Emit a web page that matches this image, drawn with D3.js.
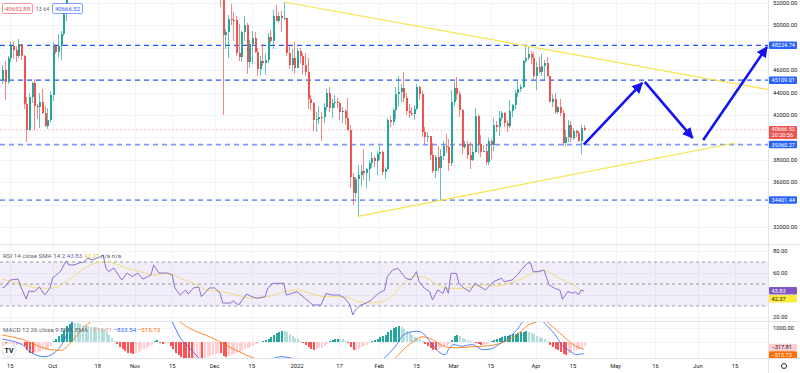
<!DOCTYPE html>
<html>
<meta charset="utf-8">
<style>
  body { margin: 0; background: #fff; }
  svg { display: block; font-family: Roboto, "Liberation Sans", sans-serif; }
  .tick { font-size: 5.8px; fill: #131722; }
  .leg { font-size: 6.2px; fill: #5d606b; }
</style>
<head>
<script src="https://d3js.org/d3.v7.min.js"></script>
</head>
<body>
<script>
// daily candles [day, open, high, low, close]; Oct 7 - Dec 2 sit above the visible range
var sep21 = [[12,45160,46440,44750,46060],[13,46060,46780,43370,44960],[14,44960,47250,44750,47130],[15,47130,48480,46700,48150],[16,48150,48500,47040,47760],[17,47760,48160,46750,47300],[18,47300,48820,47050,48310],[19,48310,48370,46880,47260],[20,47260,47330,42500,43010],[21,43010,43640,39600,40700],[22,40700,44000,40570,43580],[23,43580,44980,43100,44900],[24,44900,45200,40680,42840],[25,42840,42970,41650,42720],[26,42720,43920,40800,43200],[27,43200,44350,42100,42170],[28,42170,42790,40900,41030],[29,41030,42600,40750,41520],[30,41520,44130,41400,43800]];
var oct21 = [[1,43800,48500,43290,48140],[2,48140,48360,47440,47630],[3,47630,49230,47120,48200],[4,48200,49500,46900,49220],[5,49220,51890,49050,51490],[6,51490,55750,50380,55340]];
var dec21 = [[3,56500,57600,51680,53600],[4,53600,53860,42000,49150],[5,49150,49700,47850,49400],[6,49400,50900,47100,50580],[7,50580,51950,50050,50480],[8,50480,51200,48600,50470],[9,50470,50800,47300,47540],[10,47540,50100,46850,47140],[11,47140,49480,46750,49390],[12,49390,50800,48650,50050],[13,50050,50200,45670,46700],[14,46700,48700,46200,48340],[15,48340,49500,46550,48860],[16,48860,49450,47500,47630],[17,47630,48000,45500,46130],[18,46130,47300,45500,46830],[19,46830,48300,46400,46680],[20,46680,47530,45560,46900],[21,46900,49330,46630,48940],[22,48940,49570,48420,48630],[23,48630,51380,47900,50820],[24,50820,51810,50400,50430],[25,50430,51170,50200,50800],[26,50800,51280,49440,50700],[27,50700,52090,50450,50700],[28,50700,50700,47300,47540],[29,47540,48140,46100,46460],[30,46460,47900,45900,47120],[31,47120,48550,45680,46200]];
var jan22 = [[1,46200,47950,46200,47730],[2,47730,47990,46650,47300],[3,47300,47570,45700,46450],[4,46450,47500,45500,45830],[5,45830,47070,42500,43430],[6,43430,43800,42430,43080],[7,43080,43150,40610,41550],[8,41550,42300,40500,41680],[9,41680,42790,41200,41860],[10,41860,42250,39650,41830],[11,41830,43100,41270,42740],[12,42740,44350,42450,43920],[13,43920,44460,42300,42590],[14,42590,43450,41700,43100],[15,43100,43800,42600,43180],[16,43180,43480,42590,43110],[17,43110,43200,41550,42250],[18,42250,42690,41250,42380],[19,42380,42580,41140,41690],[20,41690,43500,40550,40700],[21,40700,41100,35440,36450],[22,36450,36850,34000,35070],[23,35070,36500,34600,36280],[24,36280,37550,32950,36680],[25,36680,37550,35700,36960],[26,36960,38920,36200,36820],[27,36820,37230,35500,37190],[28,37190,38000,36150,37730],[29,37730,38720,37300,38170],[30,38170,38370,37350,37920],[31,37920,38750,36650,38480]];
var feb22 = [[1,38480,39270,38000,38740],[2,38740,38850,36600,36950],[3,36950,37390,36250,37150],[4,37150,41770,37050,41570],[5,41570,41940,40950,41390],[6,41390,42650,41150,42410],[7,42410,44500,41650,43840],[8,43840,45490,42670,44040],[9,44040,44800,43120,44370],[10,44370,45820,43200,43510],[11,43510,43920,42000,42400],[12,42400,43000,41740,42200],[13,42200,42740,41870,42050],[14,42050,42880,41570,42530],[15,42530,44750,42430,44540],[16,44540,44580,43310,43870],[17,43870,44160,40070,40510],[18,40510,40950,39450,40000],[19,40000,40450,39630,40100],[20,40100,40150,38000,38390],[21,38390,39500,36800,37000],[22,37000,38430,36350,38250],[23,38250,39250,37040,37250],[24,37250,38970,34320,38330],[25,38330,39700,38020,39210],[26,39210,40300,38580,39100],[27,39100,39850,37000,37700],[28,37700,44220,37450,43160]];
var mar22 = [[1,43160,44950,42800,44420],[2,44420,45400,43330,43890],[3,43890,44100,41830,42450],[4,42450,42500,38550,39150],[5,39150,39700,38950,39400],[6,39400,39650,38080,38420],[7,38420,39550,37160,37990],[8,37990,39360,37860,38730],[9,38730,42600,38650,41940],[10,41940,42050,38540,39420],[11,39420,40240,38220,38730],[12,38730,39360,38660,38810],[13,38810,39300,37580,37780],[14,37780,39950,37560,39670],[15,39670,39870,38100,39280],[16,39280,41720,38810,41110],[17,41110,41480,40500,40920],[18,40920,42330,40130,41760],[19,41760,42400,41500,42200],[20,42200,42300,40900,41260],[21,41260,41550,40480,41000],[22,41000,43360,40880,42360],[23,42360,43000,41800,42880],[24,42880,44220,42560,43960],[25,43960,45100,43580,44340],[26,44340,44800,44070,44500],[27,44500,46950,44420,46820],[28,46820,48190,46650,47120],[29,47120,48100,46950,47430],[30,47430,47700,46540,47070],[31,47070,47600,45200,45510]];
var apr22 = [[1,45510,46720,44200,46280],[2,46280,47210,45620,45810],[3,45810,47440,45520,46400],[4,46400,46880,45120,46620],[5,46620,47200,45350,45500],[6,45500,45500,43120,43170],[7,43170,43900,42730,43440],[8,43440,43970,42110,42250],[9,42250,42800,42130,42750],[10,42750,43420,41870,42160],[11,42160,42420,39200,39530],[12,39530,40700,39250,40070],[13,40070,41560,39590,41150],[14,41150,41500,39550,39940],[15,39940,40850,39770,40550],[16,40550,40700,40000,40380],[17,40380,40600,39560,39680],[18,39680,41150,38540,40800],[19,40800,41100,40550,40666.52]];

// horizontal levels, trend lines and projection arrows
var levels = [48224.74, 45109.01, 39360.27, 34401.44];
var upperTrend = [["2021-12-27", 52090], ["2022-03-28", 48190]];
var lowerTrend = [["2022-01-24", 32950], ["2022-06-15", 39500]];
var arrows = [
  [["2022-04-19", 39360], ["2022-05-11", 44860]],
  [["2022-05-12", 44950], ["2022-05-30", 39950]],
  [["2022-06-03", 39770], ["2022-06-27", 48070]]
];

// RSI 14 and its SMA 14
var rsiPts = [["2021-09-12",46.4],["2021-09-13",47.5],["2021-09-15",53.6],["2021-09-18",54.5],["2021-09-19",47.3],["2021-09-21",36.4],["2021-09-22",43.6],["2021-09-24",43],["2021-09-26",47.3],["2021-09-28",40],["2021-09-30",46.4],["2021-10-01",55.7],["2021-10-02",57.5],["2021-10-04",61.8],["2021-10-06",70.9],["2021-10-07",67.3],["2021-10-09",67.3],["2021-10-11",69.1],["2021-10-13",70.3],["2021-10-14",73.6],["2021-10-16",71.8],["2021-10-19",74.8],["2021-10-20",76.4],["2021-10-21",64.5],["2021-10-22",61.2],["2021-10-24",64.5],["2021-10-27",53.6],["2021-10-29",60],["2021-10-31",56.6],["2021-11-02",60],["2021-11-04",54.5],["2021-11-07",58.2],["2021-11-08",67.3],["2021-11-10",60],["2021-11-13",60],["2021-11-15",58.2],["2021-11-16",46.4],["2021-11-18",40],["2021-11-20",44.5],["2021-11-21",40.9],["2021-11-23",46.4],["2021-11-25",47.3],["2021-11-26",38.5],["2021-11-29",46.4],["2021-12-01",46.4],["2021-12-03",41.8],["2021-12-04",32.7],["2021-12-07",32.7],["2021-12-08",34.5],["2021-12-10",30.9],["2021-12-12",37.3],["2021-12-13",40.9],["2021-12-15",38.5],["2021-12-17",37],["2021-12-20",38.5],["2021-12-21",46.4],["2021-12-23",50.6],["2021-12-27",50.6],["2021-12-28",40],["2021-12-30",41.5],["2022-01-01",43],["2022-01-04",37],["2022-01-07",30.9],["2022-01-10",30.9],["2022-01-12",41.5],["2022-01-14",40],["2022-01-17",40],["2022-01-19",37],["2022-01-21",30.9],["2022-01-22",21.8],["2022-01-23",26.4],["2022-01-25",30.9],["2022-01-27",32.5],["2022-01-29",35.5],["2022-01-31",40],["2022-02-01",42.1],["2022-02-03",44.5],["2022-02-04",56.6],["2022-02-06",62.7],["2022-02-08",64.3],["2022-02-11",55.2],["2022-02-13",53.6],["2022-02-15",61.2],["2022-02-16",52.1],["2022-02-18",46.1],["2022-02-20",43],["2022-02-21",35.5],["2022-02-23",44.5],["2022-02-25",41.5],["2022-02-26",47.5],["2022-02-27",41.5],["2022-02-28",59.7],["2022-03-02",59.7],["2022-03-03",50.6],["2022-03-05",46.1],["2022-03-07",43],["2022-03-09",50.6],["2022-03-10",49.1],["2022-03-12",46.1],["2022-03-13",44.5],["2022-03-16",52.1],["2022-03-19",55.2],["2022-03-20",52.1],["2022-03-23",53.6],["2022-03-25",58.2],["2022-03-27",64.3],["2022-03-29",69.4],["2022-03-30",68.8],["2022-03-31",61.2],["2022-04-02",61.2],["2022-04-04",62.7],["2022-04-06",49.1],["2022-04-08",46.1],["2022-04-10",44.5],["2022-04-11",36.1],["2022-04-13",43],["2022-04-15",41.5],["2022-04-16",43],["2022-04-17",40],["2022-04-18",44.5],["2022-04-19",43.83]];
var rsiSmaPts = [["2021-09-12",54.5],["2021-09-18",50.6],["2021-09-25",46.6],["2021-09-29",46.1],["2021-10-03",47.5],["2021-10-07",53.6],["2021-10-12",62.7],["2021-10-17",68.8],["2021-10-21",70.3],["2021-10-24",68.8],["2021-10-29",64.3],["2021-11-03",61.2],["2021-11-08",58.2],["2021-11-14",59.7],["2021-11-18",55.2],["2021-11-23",50.6],["2021-11-28",44.5],["2021-12-04",43],["2021-12-08",40.6],["2021-12-15",37.2],["2021-12-21",38.5],["2021-12-27",43],["2022-01-01",44.5],["2022-01-06",41.5],["2022-01-11",38.5],["2022-01-19",38.5],["2022-01-24",33.9],["2022-01-29",33],["2022-02-03",34.5],["2022-02-06",40],["2022-02-10",50.6],["2022-02-15",57.3],["2022-02-19",55.2],["2022-02-23",49.1],["2022-02-26",46.1],["2022-03-05",46.1],["2022-03-12",49.1],["2022-03-17",48.2],["2022-03-22",50.6],["2022-03-27",55.2],["2022-04-01",61.2],["2022-04-04",62.7],["2022-04-06",60.3],["2022-04-11",53.6],["2022-04-16",47.5],["2022-04-19",42.37]];

// MACD 12 26 9: daily histogram by month, MACD line and signal line
var histSep = [-250,-350,-300,-250,-200,-180,-150,-150,-300,-550,-750,-800,-720,-680,-640,-580,-540,-500,-300];
var histOct = [100,250,420,600,850,1150,1300,1400,1380,1350,1300,1250,1200,1150,1100,1080,1050,1000,950,900,700,500,300,100,-150,-350,-500,-650,-750,-800,-850];
var histNov = [-820,-700,-600,-500,-400,-300,-180,60,150,-50,-120,-100,-80,-300,-500,-750,-950,-1100,-1200,-1250,-1300,-1350,-1300,-1250,-1200,-1250,-1200,-1100,-1000,-900];
var histDec = [-850,-800,-820,-1000,-1050,-1000,-920,-850,-800,-720,-620,-520,-450,-350,-250,-150,-60,20,60,120,200,350,500,650,750,800,800,700,550,400,280];
var histJan = [180,80,-80,-200,-380,-500,-550,-520,-450,-400,-300,-150,50,120,180,230,220,180,100,-100,-350,-550,-550,-480,-380,-300,-200,-80,60,150,250];
var histFeb = [350,420,500,700,850,1000,1100,1130,1100,950,800,650,500,380,300,200,80,-150,-300,-450,-580,-600,-520,-450,-350,-250,-150,150];
var histMar = [450,530,450,300,200,120,60,20,-80,-150,-200,-180,-150,-50,50,150,230,300,380,420,450,500,550,600,650,700,750,770,720,650,550];
var histApr = [450,380,300,220,100,-200,-350,-500,-600,-700,-880,-900,-800,-750,-650,-550,-480,-400,-317.81];
var histMonths = [["2021-09-12",histSep],["2021-10-01",histOct],["2021-11-01",histNov],["2021-12-01",histDec],["2022-01-01",histJan],["2022-02-01",histFeb],["2022-03-01",histMar],["2022-04-01",histApr]];
var macdPts = [["2021-09-12",200],["2021-09-20",-250],["2021-09-22",-650],["2021-09-28",-1050],["2021-10-01",-850],["2021-10-04",-300],["2021-10-06",400],["2021-10-08",1300],["2021-10-12",2200],["2021-10-20",3000],["2021-11-01",2600],["2021-11-10",2400],["2021-11-15",1430],["2021-11-18",300],["2021-11-21",-300],["2021-11-25",-1150],["2021-12-05",-2500],["2021-12-15",-1800],["2021-12-22",-1250],["2021-12-26",-1050],["2021-12-30",-1150],["2022-01-02",-1300],["2022-01-10",-2000],["2022-01-24",-2300],["2022-02-02",-1300],["2022-02-08",-70],["2022-02-10",500],["2022-02-15",770],["2022-02-17",680],["2022-02-20",60],["2022-02-23",-650],["2022-02-26",-900],["2022-02-27",-550],["2022-03-01",-180],["2022-03-04",-300],["2022-03-08",-180],["2022-03-12",-550],["2022-03-15",-500],["2022-03-18",-180],["2022-03-22",370],["2022-03-25",900],["2022-03-27",1430],["2022-04-01",1800],["2022-04-05",1200],["2022-04-09",300],["2022-04-11",-300],["2022-04-14",-650],["2022-04-16",-900],["2022-04-19",-833.54]];
var signalPts = [["2021-09-12",500],["2021-09-20",150],["2021-09-28",-450],["2021-10-04",-600],["2021-10-08",0],["2021-10-12",900],["2021-10-20",2000],["2021-11-01",2700],["2021-11-12",2500],["2021-11-18",1430],["2021-12-01",200],["2021-12-15",-1100],["2021-12-18",-1300],["2021-12-25",-1500],["2022-01-05",-1600],["2022-01-20",-1700],["2022-02-01",-1500],["2022-02-06",-1290],["2022-02-10",-550],["2022-02-14",60],["2022-02-17",370],["2022-02-21",180],["2022-02-24",-180],["2022-02-26",-350],["2022-03-02",-420],["2022-03-07",-350],["2022-03-12",-300],["2022-03-17",-180],["2022-03-22",180],["2022-03-26",700],["2022-03-29",1200],["2022-04-01",1430],["2022-04-03",1600],["2022-04-05",1450],["2022-04-08",980],["2022-04-12",300],["2022-04-16",-300],["2022-04-19",-515.73]];

// axes
var priceTicks = d3.range(32000, 52001, 2000);
var rsiTicks = [20, 40, 60, 80];
var macdTicks = [0, 1000];
var timeTicks = ["2021-09-15","2021-10-01","2021-10-18","2021-11-01","2021-11-15","2021-12-01","2021-12-15","2022-01-01","2022-01-17","2022-02-01","2022-02-15","2022-03-01","2022-03-15","2022-04-01","2022-04-15","2022-05-01","2022-05-16","2022-06-01","2022-06-15"];
var timeLabels = ["15","Oct","18","Nov","15","Dec","15","2022","17","Feb","15","Mar","15","Apr","15","May","16","Jun","15"];

var width = 800, height = 373, plotR = 768;
var mainTop = 0, mainBot = 244, rsiTop = 244, rsiBot = 321, macdTop = 321, macdBot = 358;
var parse = d3.utcParse("%Y-%m-%d");

var x = d3.scaleUtc()
    .domain([parse("2022-01-01"), parse("2022-06-01")])
    .range([297, 297 + 151 * 2.655]);
var y = d3.scaleLinear().domain([32000, 52000]).range([227, 3]);
var yr = d3.scaleLinear().domain([30, 70]).range([306, 262]);
var ym = d3.scaleLinear().domain([0, 1000]).range([342, 328]);

var candles = [[2021,8,sep21],[2021,9,oct21],[2021,11,dec21],[2022,0,jan22],[2022,1,feb22],[2022,2,mar22],[2022,3,apr22]]
  .flatMap(function(m) {
    return m[2].map(function(r) {
      return {t: new Date(Date.UTC(m[0], m[1], r[0])), o: r[1], h: r[2], l: r[3], c: r[4]};
    });
  });

var hist = histMonths.flatMap(function(m) {
  var start = parse(m[0]);
  return m[1].map(function(v, i) { return {t: d3.utcDay.offset(start, i), v: v}; });
});
hist.forEach(function(d, i) {
  var prev = i > 0 ? hist[i - 1].v : d.v;
  if (d.v >= 0) d.col = d.v > prev ? "#26a69a" : "#b2dfdb";
  else d.col = d.v < prev ? "#ff5252" : "#ffcdd2";
});

var svg = d3.select("body").append("svg")
    .attr("width", width)
    .attr("height", height);

var defs = svg.append("defs");
[["clipMain", mainTop, mainBot], ["clipRsi", rsiTop, rsiBot], ["clipMacd", macdTop, macdBot]].forEach(function(c) {
  defs.append("clipPath").attr("id", c[0])
    .append("rect").attr("x", 0).attr("y", c[1]).attr("width", plotR).attr("height", c[2] - c[1]);
});
defs.append("marker").attr("id", "head")
    .attr("viewBox", "0 0 10 10").attr("refX", 9).attr("refY", 5)
    .attr("markerUnits", "userSpaceOnUse").attr("markerWidth", 11).attr("markerHeight", 11)
    .attr("orient", "auto")
  .append("path").attr("d", "M0,0L10,5L0,10z").attr("fill", "#1212f5");

// grid
var grid = svg.append("g").attr("stroke", "#f0f3fa").attr("stroke-width", 1).attr("shape-rendering", "crispEdges");
timeTicks.forEach(function(t) {
  var xx = Math.round(x(parse(t))) + 0.5;
  grid.append("line").attr("x1", xx).attr("x2", xx).attr("y1", 0).attr("y2", macdBot);
});
priceTicks.forEach(function(p) {
  grid.append("line").attr("x1", 0).attr("x2", plotR).attr("y1", Math.round(y(p)) + 0.5).attr("y2", Math.round(y(p)) + 0.5);
});
rsiTicks.forEach(function(v) {
  grid.append("line").attr("x1", 0).attr("x2", plotR).attr("y1", Math.round(yr(v)) + 0.5).attr("y2", Math.round(yr(v)) + 0.5);
});
macdTicks.forEach(function(v) {
  grid.append("line").attr("x1", 0).attr("x2", plotR).attr("y1", Math.round(ym(v)) + 0.5).attr("y2", Math.round(ym(v)) + 0.5);
});

// ---- main pane
var main = svg.append("g").attr("clip-path", "url(#clipMain)");

main.append("line")
    .attr("x1", 0).attr("x2", plotR)
    .attr("y1", y(40666.52)).attr("y2", y(40666.52))
    .attr("stroke", "#ef5350").attr("stroke-opacity", 0.35).attr("stroke-dasharray", "2,2");

main.selectAll(".lvl").data(levels).enter().append("line")
    .attr("x1", 0).attr("x2", plotR)
    .attr("y1", function(d) { return y(d); }).attr("y2", function(d) { return y(d); })
    .attr("stroke", function(d, i) { return i < 2 ? "#2451ff" : "#7e98ff"; })
    .attr("stroke-width", function(d, i) { return i < 2 ? 1.3 : 1.8; })
    .attr("stroke-dasharray", "5,4");

var cg = main.append("g").attr("shape-rendering", "crispEdges");
cg.selectAll(".wick").data(candles).enter().append("line")
    .attr("x1", function(d) { return Math.round(x(d.t)) + 0.5; })
    .attr("x2", function(d) { return Math.round(x(d.t)) + 0.5; })
    .attr("y1", function(d) { return y(d.h); })
    .attr("y2", function(d) { return y(d.l); })
    .attr("stroke", function(d) { return d.c >= d.o ? "#26a69a" : "#ef5350"; })
    .attr("stroke-opacity", 0.7);
cg.selectAll(".body").data(candles).enter().append("rect")
    .attr("x", function(d) { return Math.round(x(d.t)) - 0.5; })
    .attr("width", 2)
    .attr("y", function(d) { return y(Math.max(d.o, d.c)); })
    .attr("height", function(d) { return Math.max(1, Math.abs(y(d.o) - y(d.c))); })
    .attr("fill", function(d) { return d.c >= d.o ? "#26a69a" : "#ef5350"; });

function trendPoint(p) { return [x(parse(p[0])), y(p[1])]; }
var u0 = trendPoint(upperTrend[0]), u1 = trendPoint(upperTrend[1]);
var uSlope = (u1[1] - u0[1]) / (u1[0] - u0[0]);
main.append("line")
    .attr("x1", u0[0]).attr("y1", u0[1])
    .attr("x2", plotR).attr("y2", u0[1] + uSlope * (plotR - u0[0]))
    .attr("stroke", "#f7e34a").attr("stroke-width", 1.2);
var l0 = trendPoint(lowerTrend[0]), l1 = trendPoint(lowerTrend[1]);
main.append("line")
    .attr("x1", l0[0]).attr("y1", l0[1]).attr("x2", l1[0]).attr("y2", l1[1])
    .attr("stroke", "#f7e34a").attr("stroke-width", 1.2);

arrows.forEach(function(a) {
  var p0 = trendPoint(a[0]), p1 = trendPoint(a[1]);
  main.append("line")
      .attr("x1", p0[0]).attr("y1", p0[1]).attr("x2", p1[0]).attr("y2", p1[1])
      .attr("stroke", "#1212f5").attr("stroke-width", 2.6)
      .attr("marker-end", "url(#head)");
});

// buy / sell boxes
var bs = svg.append("g").attr("font-size", "6px");
bs.append("rect").attr("x", 2.5).attr("y", 3.5).attr("width", 30).attr("height", 10).attr("rx", 1.5)
    .attr("fill", "#fff").attr("stroke", "#ef5350").attr("stroke-opacity", 0.6);
bs.append("text").attr("x", 17.5).attr("y", 10.7).attr("text-anchor", "middle").attr("fill", "#ef5350").text("40652.88");
bs.append("text").attr("x", 42.5).attr("y", 10.7).attr("text-anchor", "middle").attr("fill", "#5d606b").attr("font-size", "5.3px").text("13.64");
bs.append("rect").attr("x", 52.5).attr("y", 3.5).attr("width", 30).attr("height", 10).attr("rx", 1.5)
    .attr("fill", "#fff").attr("stroke", "#2962ff").attr("stroke-opacity", 0.6);
bs.append("text").attr("x", 67.5).attr("y", 10.7).attr("text-anchor", "middle").attr("fill", "#2962ff").text("40666.52");

// ---- RSI pane
var rsiG = svg.append("g").attr("clip-path", "url(#clipRsi)");
rsiG.append("rect").attr("x", 0).attr("width", plotR).attr("y", yr(70)).attr("height", yr(30) - yr(70))
    .attr("fill", "#7e57c2").attr("fill-opacity", 0.1);
[70, 50, 30].forEach(function(v) {
  rsiG.append("line").attr("x1", 0).attr("x2", plotR).attr("y1", yr(v)).attr("y2", yr(v))
      .attr("stroke", "#9598a1").attr("stroke-dasharray", "3,3");
});
var rsiLine = d3.line().x(function(d) { return x(parse(d[0])); }).y(function(d) { return yr(d[1]); });
rsiG.append("path").attr("d", rsiLine.curve(d3.curveMonotoneX)(rsiSmaPts))
    .attr("fill", "none").attr("stroke", "#f5dc7a").attr("stroke-width", 1);
rsiG.append("path").attr("d", rsiLine.curve(d3.curveLinear)(rsiPts))
    .attr("fill", "none").attr("stroke", "#8c6fd1").attr("stroke-width", 1);

var legR = svg.append("text").attr("class", "leg").attr("x", 3).attr("y", 258);
legR.append("tspan").text("RSI 14 close SMA 14 2 ");
legR.append("tspan").attr("fill", "#7e57c2").text(" 43.83 ");
legR.append("tspan").attr("fill", "#e8c33c").text(" 42.37 ");
legR.append("tspan").text(" n/a n/a");

// ---- MACD pane
var macdG = svg.append("g").attr("clip-path", "url(#clipMacd)");
macdG.append("g").attr("shape-rendering", "crispEdges")
  .selectAll("rect").data(hist).enter().append("rect")
    .attr("x", function(d) { return Math.round(x(d.t)) - 0.5; })
    .attr("width", 2)
    .attr("y", function(d) { return Math.min(ym(0), ym(d.v)); })
    .attr("height", function(d) { return Math.abs(ym(d.v) - ym(0)); })
    .attr("fill", function(d) { return d.col; });
var macdLine = d3.line().x(function(d) { return x(parse(d[0])); }).y(function(d) { return ym(d[1]); }).curve(d3.curveMonotoneX);
macdG.append("path").attr("d", macdLine(macdPts)).attr("fill", "none").attr("stroke", "#2962ff").attr("stroke-opacity", 0.8).attr("stroke-width", 1);
macdG.append("path").attr("d", macdLine(signalPts)).attr("fill", "none").attr("stroke", "#ff6d00").attr("stroke-opacity", 0.8).attr("stroke-width", 1);

var legM = svg.append("text").attr("class", "leg").attr("x", 3).attr("y", 332);
legM.append("tspan").text("MACD 12 26 close 9 EMA EMA ");
legM.append("tspan").attr("fill", "#f7a1a1").text(" \u2212317.81 ");
legM.append("tspan").attr("fill", "#2962ff").text(" \u2212833.54 ");
legM.append("tspan").attr("fill", "#ff6d00").text(" \u2212515.73");

// TradingView badge
svg.append("circle").attr("cx", 9).attr("cy", 350).attr("r", 7).attr("fill", "#fff")
    .attr("stroke", "#e0e3eb");
svg.append("text").attr("x", 9).attr("y", 352.5).attr("text-anchor", "middle")
    .attr("font-size", "7px").attr("font-weight", "bold").attr("fill", "#131722").text("TV");

// ---- separators
var sep = svg.append("g").attr("stroke", "#e0e3eb").attr("shape-rendering", "crispEdges");
sep.append("line").attr("x1", 0).attr("x2", width).attr("y1", mainBot + 0.5).attr("y2", mainBot + 0.5);
sep.append("line").attr("x1", 0).attr("x2", width).attr("y1", rsiBot + 0.5).attr("y2", rsiBot + 0.5);
sep.append("line").attr("x1", plotR + 0.5).attr("x2", plotR + 0.5).attr("y1", 0).attr("y2", height);

// ---- right scale: badges first, ticks hidden where a badge sits
var badges = [];
levels.forEach(function(p) { badges.push({yc: y(p), txt: d3.format(".2f")(p), bg: "#2962ff", fg: "#fff"}); });
badges.push({yc: y(40666.52) + 2.5, txt: "40666.52", sub: "20:20:56", bg: "#ef5350", fg: "#fff"});
badges.push({yc: yr(43.83), txt: "43.83", bg: "#7e57c2", fg: "#fff"});
badges.push({yc: yr(43.83) + 8, txt: "42.37", bg: "#ffeb3b", fg: "#131722"});
badges.push({yc: 362, txt: "\u2212833.54", bg: "#2962ff", fg: "#fff"});
badges.push({yc: ym(-317.81) + 1, txt: "\u2212317.81", bg: "#ffcdd2", fg: "#131722"});
badges.push({yc: ym(-317.81) + 8.5, txt: "\u2212515.73", bg: "#ff6d00", fg: "#fff"});

var ax = svg.append("g");
function free(yy) {
  return badges.every(function(b) { return Math.abs(b.yc - yy) > (b.sub ? 9 : 6.5); });
}
function tickLabel(yy, txt) {
  if (!free(yy)) return;
  ax.append("text").attr("class", "tick").attr("x", 773).attr("y", yy + 2).text(txt);
}
priceTicks.forEach(function(p) { tickLabel(y(p), d3.format(".2f")(p)); });
rsiTicks.forEach(function(v) { tickLabel(yr(v), d3.format(".2f")(v)); });
macdTicks.forEach(function(v) { tickLabel(ym(v), d3.format(".2f")(v)); });

badges.forEach(function(b) {
  var h = b.sub ? 13 : 7.5;
  var top = b.sub ? b.yc - 6.5 : b.yc - 3.75;
  ax.append("rect").attr("x", 769).attr("y", top).attr("width", 28).attr("height", h).attr("rx", 1).attr("fill", b.bg);
  ax.append("text").attr("x", 771.5).attr("y", (b.sub ? b.yc - 3.5 : b.yc) + 2).attr("font-size", "5.6px").attr("fill", b.fg).text(b.txt);
  if (b.sub) ax.append("text").attr("x", 771.5).attr("y", b.yc + 4.5).attr("font-size", "5.6px").attr("fill", b.fg).text(b.sub);
});

// ---- time axis
svg.append("rect").attr("x", 0).attr("y", macdBot).attr("width", width).attr("height", height - macdBot).attr("fill", "#fff");
svg.append("line").attr("x1", 0).attr("x2", width).attr("y1", macdBot + 0.5).attr("y2", macdBot + 0.5).attr("stroke", "#e0e3eb");
svg.append("line").attr("x1", plotR + 0.5).attr("x2", plotR + 0.5).attr("y1", macdBot).attr("y2", height).attr("stroke", "#e0e3eb");
timeTicks.forEach(function(t, i) {
  svg.append("text").attr("class", "tick").attr("x", x(parse(t))).attr("y", 368.3)
      .attr("text-anchor", "middle").text(timeLabels[i]);
});
svg.append("circle").attr("cx", 784).attr("cy", 366).attr("r", 2.5).attr("fill", "none").attr("stroke", "#131722").attr("stroke-width", 0.9);
</script>
</body>
</html>
